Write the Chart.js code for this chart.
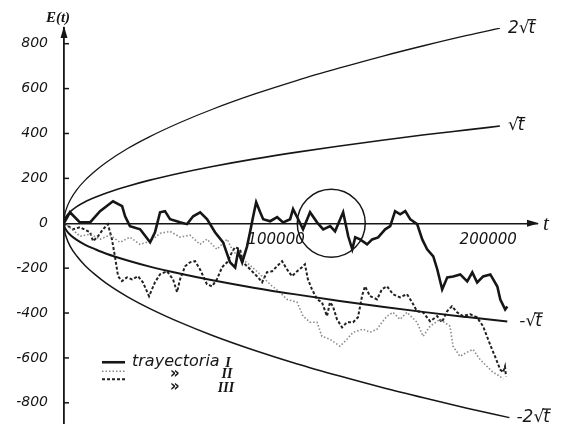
<!DOCTYPE html>
<html>
<head>
<meta charset="utf-8">
<script src="https://cdn.jsdelivr.net/npm/chart.js@4.4.1/dist/chart.umd.min.js"></script>
<style>
  html, body { margin: 0; padding: 0; background: #fff; }
  #wrap { width: 563px; height: 428px; }
</style>
</head>
<body>
<div id="wrap"><canvas id="chart"></canvas></div>
<script>
// [t, E(t)]
const trayectoriaI = [[0,0],[2800,49],[7500,4],[12300,4],[17000,54],[23100,98],[27400,76],[28800,31],[31100,-13],[35900,-27],[40600,-85],[42900,-40],[45300,49],[47600,54],[50000,18],[54700,4],[58000,-4],[60900,31],[64200,49],[67500,18],[71200,-40],[75000,-85],[78300,-174],[80700,-197],[82100,-125],[84000,-174],[86300,-103],[87700,-40],[89200,31],[90600,94],[92500,49],[93900,18],[97200,9],[100500,27],[103300,4],[106600,18],[108000,63],[110400,18],[112700,-27],[116000,49],[119300,4],[122200,-27],[125500,-13],[127800,-36],[130200,18],[131600,49],[134000,-58],[135900,-116],[137300,-63],[139600,-72],[142900,-94],[145300,-72],[148100,-63],[151400,-27],[153800,-13],[156100,54],[158500,40],[160900,54],[163200,18],[166500,-4],[168900,-72],[171200,-116],[174100,-148],[176000,-206],[178300,-295],[180700,-241],[183500,-237],[186800,-228],[190100,-259],[192500,-219],[194800,-264],[197600,-237],[201000,-228],[204300,-282],[205700,-340],[208000,-384],[209000,-371]];

const trayectoriaII = [[0,0],[2800,-18],[7500,-58],[12300,-49],[17000,-71],[21700,-53],[26400,-85],[31100,-62],[35800,-94],[40600,-80],[45300,-45],[50000,-36],[54700,-62],[59400,-53],[64100,-94],[67400,-71],[72100,-116],[76900,-71],[79700,-125],[83000,-152],[87700,-187],[92400,-227],[97100,-272],[101800,-308],[105100,-339],[109900,-352],[112700,-414],[116000,-441],[119300,-441],[121600,-504],[125400,-517],[130100,-548],[133400,-517],[136300,-486],[141000,-472],[144300,-486],[147600,-472],[149900,-441],[152300,-414],[155100,-397],[158400,-428],[161700,-397],[166400,-441],[169300,-504],[172600,-459],[177300,-428],[182000,-459],[183400,-548],[186700,-593],[190000,-575],[192800,-562],[196100,-606],[199400,-638],[202300,-664],[205600,-682],[207000,-695]];

const trayectoriaIII = [[0,0],[4200,-27],[7500,-18],[12300,-40],[13700,-80],[16000,-58],[18400,-27],[20700,-4],[22600,-71],[24000,-147],[25500,-236],[27300,-258],[29700,-241],[32100,-250],[34900,-236],[37200,-263],[40100,-325],[42900,-263],[45300,-227],[48600,-214],[51400,-250],[53300,-307],[54700,-250],[57100,-192],[59400,-174],[61800,-169],[64100,-205],[67400,-272],[69800,-281],[72100,-250],[74500,-196],[76900,-174],[79200,-129],[80600,-107],[83000,-116],[84400,-174],[86800,-196],[89100,-218],[91500,-241],[93400,-263],[95700,-218],[98100,-214],[100400,-192],[102800,-169],[105100,-205],[107500,-236],[109900,-214],[112200,-196],[113600,-183],[115000,-250],[116900,-294],[119300,-339],[121600,-352],[124000,-414],[125400,-352],[126800,-370],[128700,-428],[131100,-464],[133400,-441],[136300,-441],[138600,-419],[140500,-325],[141900,-281],[144300,-325],[147600,-339],[149900,-294],[152300,-281],[155100,-316],[158400,-330],[161700,-316],[164100,-352],[166400,-392],[169300,-397],[172600,-437],[175900,-414],[178200,-441],[180600,-392],[182900,-370],[185300,-397],[188100,-414],[191400,-405],[194700,-419],[197600,-459],[199400,-504],[201800,-562],[203200,-593],[205600,-651],[207000,-664],[207900,-638],[208400,-682]];

// envelope curves, read at a few t positions
const curva2RaizT = [[0,0],[250,30],[1000,61],[3000,105],[6000,149],[10000,192],[15000,235],[20000,272],[30000,333],[40000,384],[55000,450],[70000,508],[90000,576],[110000,637],[130000,692],[150000,744],[170000,792],[190000,837],[205500,869]];
const curvaRaizT = [[0,0],[250,15],[1000,30],[3000,52],[6000,74],[10000,96],[15000,117],[20000,135],[30000,165],[40000,191],[55000,224],[70000,253],[90000,287],[110000,317],[130000,344],[150000,370],[170000,394],[190000,416],[205500,433]];
const curvaMenosRaizT = [[0,0],[250,-15],[1000,-30],[3000,-52],[6000,-74],[10000,-96],[15000,-117],[20000,-136],[30000,-166],[40000,-192],[55000,-225],[70000,-254],[90000,-288],[110000,-318],[130000,-346],[150000,-372],[170000,-396],[190000,-418],[209000,-438]];
const curvaMenos2RaizT = [[0,0],[250,-30],[1000,-60],[3000,-104],[6000,-146],[10000,-189],[15000,-231],[20000,-268],[30000,-328],[40000,-378],[55000,-443],[70000,-500],[90000,-567],[110000,-627],[130000,-681],[150000,-732],[170000,-779],[190000,-824],[210000,-866]];

const circulo = [126000, 0, 34];   // t, E, radius in px
const yTicks = [-800, -600, -400, -200, 0, 200, 400, 600, 800];
const xTicks = [100000, 200000];
const curveCoefs = ['2', '', '-', '-2'];
const legendText = ['trayectoria', '\u00bb', '\u00bb'];
const legendNums = ['I', 'II', 'III'];

const toXY = arr => arr.map(p => ({ x: p[0], y: p[1] }));
const INK = '#161616';

const decor = {
  id: 'decor',
  afterDatasetsDraw(chart) {
    const ctx = chart.ctx;
    const xs = chart.scales.x, ys = chart.scales.y;
    const x0 = xs.getPixelForValue(0), y0 = ys.getPixelForValue(0);
    const top = chart.chartArea.top, right = chart.chartArea.right;
    ctx.save();
    ctx.fillStyle = INK;
    ctx.strokeStyle = INK;

    // the circled region
    ctx.lineWidth = 1.5;
    ctx.beginPath();
    ctx.arc(xs.getPixelForValue(circulo[0]), ys.getPixelForValue(circulo[1]), circulo[2], 0, Math.PI * 2);
    ctx.stroke();

    // arrow heads
    ctx.beginPath();
    ctx.moveTo(x0, top - 2); ctx.lineTo(x0 - 3.5, top + 10); ctx.lineTo(x0 + 3.5, top + 10);
    ctx.closePath(); ctx.fill();
    ctx.beginPath();
    ctx.moveTo(right + 2, y0); ctx.lineTo(right - 10, y0 - 3.5); ctx.lineTo(right - 10, y0 + 3.5);
    ctx.closePath(); ctx.fill();

    // y tick marks, inside
    ctx.lineWidth = 1.5;
    yTicks.forEach(v => {
      if (v === 0) return;
      const y = ys.getPixelForValue(v);
      ctx.beginPath(); ctx.moveTo(x0, y); ctx.lineTo(x0 + 5, y); ctx.stroke();
    });

    // axis titles
    ctx.textBaseline = 'alphabetic';
    ctx.textAlign = 'center';
    ctx.font = 'italic bold 15px "Liberation Sans Narrow"';
    ctx.fillText('E(t)', x0 - 6, top - 6);
    ctx.font = 'italic 21px "Liberation Sans Narrow"';
    ctx.textAlign = 'left';
    ctx.fillText('t', right + 6, y0 + 7);

    // labels at the end of the envelope curves
    const offs = [[8, 0], [8, 0], [12, 0], [7, 0]];
    ctx.font = 'italic 17px "DejaVu Sans"';
    ctx.textBaseline = 'middle';
    ctx.lineWidth = 1.3;
    curveCoefs.forEach((c, i) => {
      const pts = chart.getDatasetMeta(i).data;
      const p = pts[pts.length - 1];
      const x = p.x + offs[i][0], y = p.y + offs[i][1];
      const head = c + '\u221a';
      ctx.fillText(head, x, y);
      const w1 = ctx.measureText(head).width;
      ctx.fillText('t', x + w1 - 1, y);
      const wt = ctx.measureText('t').width;
      ctx.beginPath();
      ctx.moveTo(x + w1 - 2, y - 8.5);
      ctx.lineTo(x + w1 + wt, y - 8.5);
      ctx.stroke();
    });

    // legend
    const lx = chart.chartArea.left + 38;
    const ly = [363, 372, 380].map(v => y0 + (v - 224));
    [0, 1, 2].forEach(k => {
      const ds = chart.data.datasets[4 + k];
      ctx.save();
      ctx.strokeStyle = ds.borderColor;
      ctx.lineWidth = ds.borderWidth;
      ctx.setLineDash(ds.borderDash || []);
      ctx.beginPath(); ctx.moveTo(lx, ly[k]); ctx.lineTo(lx + 23, ly[k]); ctx.stroke();
      ctx.restore();
    });
    ctx.textBaseline = 'alphabetic';
    ctx.font = 'italic 16px "DejaVu Sans"';
    ctx.fillText(legendText[0], lx + 30, ly[0] + 4);
    ctx.font = 'bold 15px "DejaVu Sans"';
    ctx.fillText(legendText[1], lx + 68, ly[1] + 7);
    ctx.fillText(legendText[2], lx + 68, ly[2] + 12);
    ctx.font = 'italic bold 14px "Liberation Serif"';
    ctx.textAlign = 'center';
    ctx.fillText(legendNums[0], lx + 126, ly[0] + 5);
    ctx.fillText(legendNums[1], lx + 125, ly[1] + 7);
    ctx.fillText(legendNums[2], lx + 124, ly[2] + 13);
    ctx.restore();
  }
};

const lineDs = (data, width, extra) => Object.assign({
  type: 'line',
  data: toXY(data),
  borderColor: INK,
  borderWidth: width,
  pointRadius: 0,
  fill: false,
  tension: 0
}, extra || {});

new Chart(document.getElementById('chart'), {
  type: 'line',
  data: {
    datasets: [
      lineDs(curva2RaizT, 1.3, { cubicInterpolationMode: 'monotone' }),
      lineDs(curvaRaizT, 1.6, { cubicInterpolationMode: 'monotone' }),
      lineDs(curvaMenosRaizT, 2, { cubicInterpolationMode: 'monotone' }),
      lineDs(curvaMenos2RaizT, 1.5, { cubicInterpolationMode: 'monotone' }),
      lineDs(trayectoriaI, 2.6),
      lineDs(trayectoriaII, 1.6, { borderColor: '#8a8a8a', borderDash: [1.5, 2] }),
      lineDs(trayectoriaIII, 2, { borderColor: '#222', borderDash: [3, 2] })
    ]
  },
  options: {
    responsive: true,
    maintainAspectRatio: false,
    animation: false,
    events: [],
    layout: { padding: { top: 28, right: 26, bottom: 5, left: 0 } },
    plugins: { legend: { display: false }, tooltip: { enabled: false } },
    scales: {
      x: {
        type: 'linear',
        position: { y: 0 },
        min: 0,
        max: 223000,
        grid: { display: false, drawTicks: false },
        border: { display: true, color: INK, width: 1.5 },
        afterFit: s => { s.height = 0; s.paddingLeft = 0; s.paddingRight = 0; },
        afterBuildTicks: s => { s.ticks = xTicks.map(v => ({ value: v })); },
        ticks: {
          color: INK,
          padding: 8,
          maxRotation: 0,
          font: { family: 'DejaVu Sans', style: 'italic', size: 15 },
          callback: v => String(v)
        }
      },
      y: {
        type: 'linear',
        position: 'left',
        min: -890,
        max: 870,
        grid: { display: false, drawTicks: false },
        border: { display: true, color: INK, width: 1.8 },
        afterFit: s => { s.width = 64; s.paddingTop = 0; s.paddingBottom = 0; },
        afterBuildTicks: s => { s.ticks = yTicks.map(v => ({ value: v })); },
        ticks: {
          color: INK,
          padding: 16,
          font: { family: 'DejaVu Sans', style: 'italic', size: 14 },
          callback: v => String(v)
        }
      }
    }
  },
  plugins: [decor]
});
</script>
</body>
</html>
